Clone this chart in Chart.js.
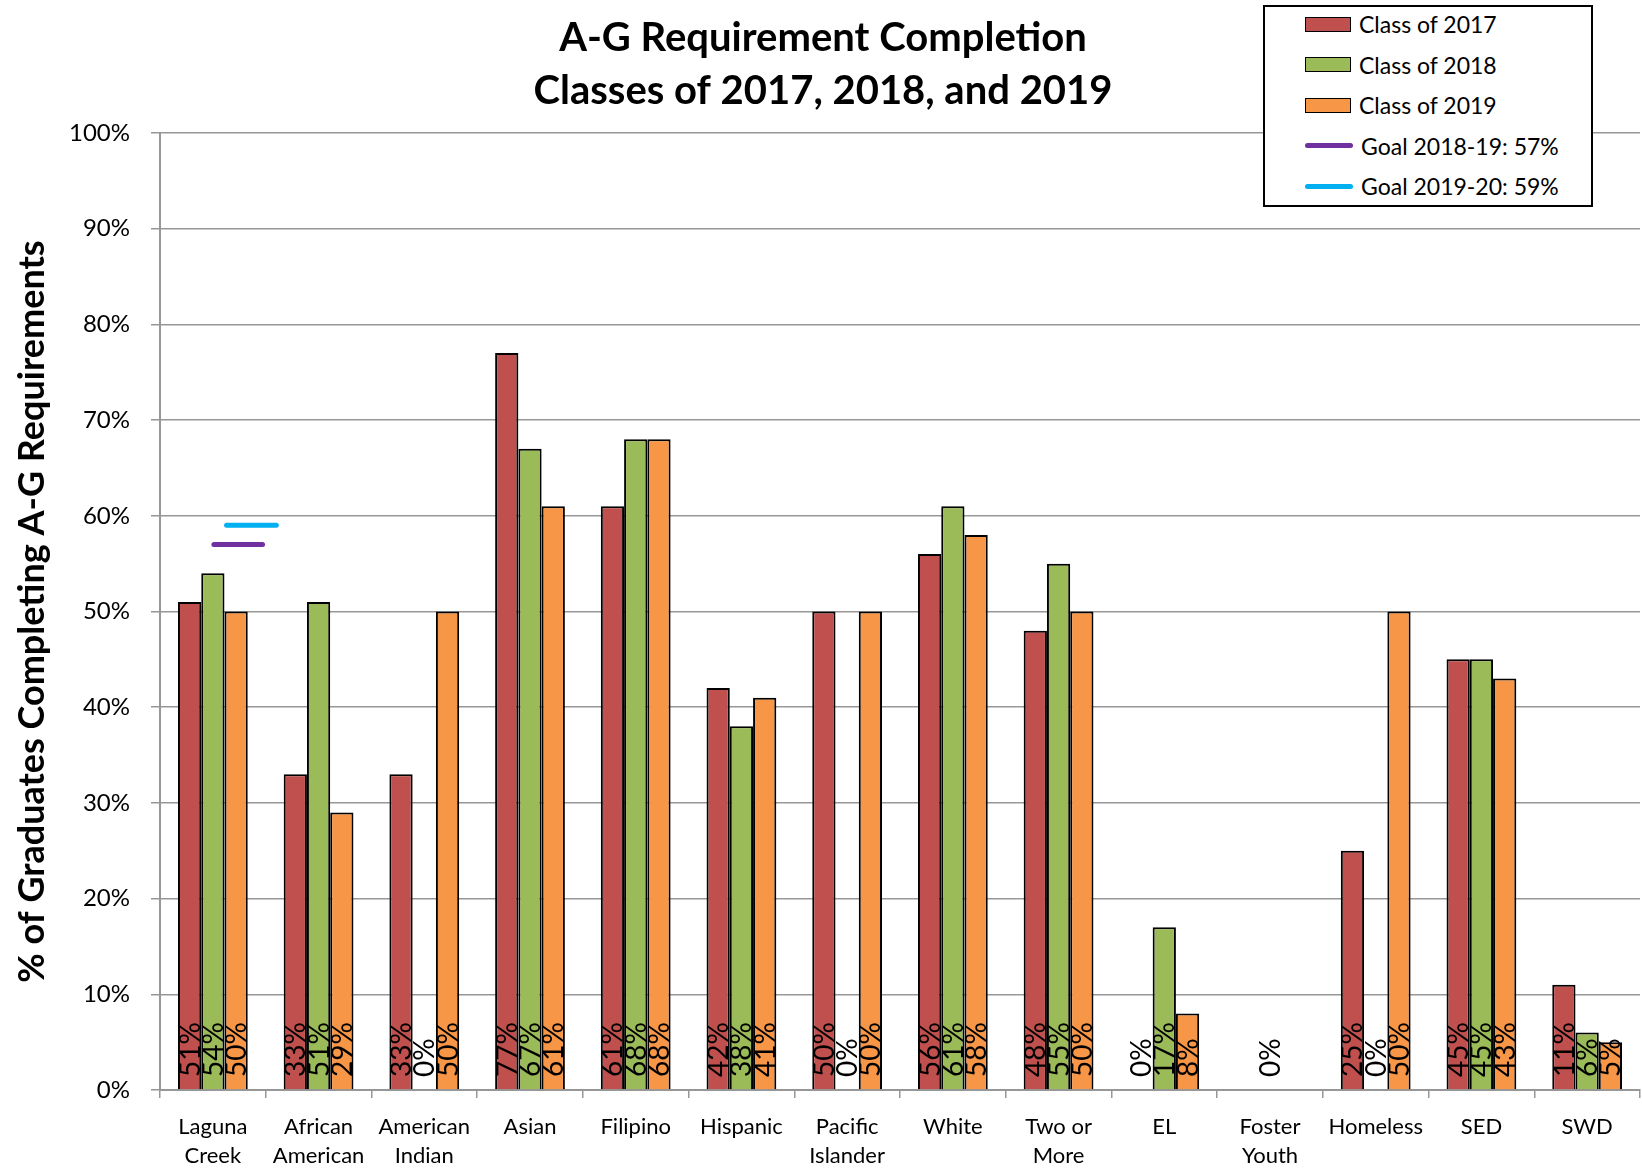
<!DOCTYPE html>
<html>
<head>
<meta charset="utf-8">
<script src="https://cdn.jsdelivr.net/npm/chart.js@4/dist/chart.umd.min.js"></script>
<style>
    body { margin: 0; background: #fff; }
    #wrap { position: relative; width: 1642px; height: 1168px; }
    #legend {
        position: absolute; left: 1263px; top: 5px; width: 326px; height: 198px;
        border: 2px solid #000; background: #fff; font-family: Lato, sans-serif; font-size: 23px;
    }
    .item { position: absolute; left: 40px; height: 30px; display: flex; align-items: center; }
    .swatch { width: 44px; height: 13px; border: 1.5px solid #000; margin-right: 8px; }
    .linea { width: 48px; height: 5px; border-radius: 3px; margin-right: 8px; }
</style>
</head>
<body>
<div id="wrap">
    <canvas id="grafico" width="1642" height="1168"></canvas>
    <div id="legend"></div>
</div>
<script>
// Datos
const categorias = [
    ['Laguna', 'Creek'], ['African', 'American'], ['American', 'Indian'], 'Asian', 'Filipino', 'Hispanic',
    ['Pacific', 'Islander'], 'White', ['Two or', 'More'], 'EL', ['Foster', 'Youth'], 'Homeless', 'SED', 'SWD'
]
const clase2017 = [51, 33, 33, 77, 61, 42, 50, 56, 48, 0, null, 25, 45, 11]
const clase2018 = [54, 51, 0, 67, 68, 38, 0, 61, 55, 17, 0, 0, 45, 6]
const clase2019 = [50, 29, 50, 61, 68, 41, 50, 58, 50, 8, null, 50, 43, 5]
const metasNombres = ['Goal 2018-19: 57%', 'Goal 2019-20: 59%']
const metasValores = [57, 59]
const ticksY = [0, 10, 20, 30, 40, 50, 60, 70, 80, 90, 100]

const fuente = 'Lato, sans-serif'
const gris = '#979797'
const coloresMetas = ['#7030A0', '#00B0F0']
// tramo de cada línea de meta, en unidades de categoría respecto al centro de "Laguna Creek"
const tramosMetas = [[0.01, 0.47], [0.13, 0.6]]

// Líneas de meta dibujadas con las escalas del gráfico
const lineasMeta = {
    id: 'lineasMeta',
    afterDatasetsDraw(chart) {
        const ctx = chart.ctx
        const x = chart.scales.x
        const y = chart.scales.y
        const paso = x.getPixelForValue(1) - x.getPixelForValue(0)
        ctx.save()
        ctx.lineWidth = 5
        ctx.lineCap = 'round'
        metasValores.forEach((v, i) => {
            const py = y.getPixelForValue(v)
            ctx.strokeStyle = coloresMetas[i]
            ctx.beginPath()
            ctx.moveTo(x.getPixelForValue(0) + tramosMetas[i][0] * paso, py)
            ctx.lineTo(x.getPixelForValue(0) + tramosMetas[i][1] * paso, py)
            ctx.stroke()
        })
        ctx.restore()
    }
}

// Etiquetas verticales dentro de las barras
const etiquetasBarras = {
    id: 'etiquetasBarras',
    afterDatasetsDraw(chart) {
        const ctx = chart.ctx
        const base = chart.scales.y.getPixelForValue(0)
        ctx.save()
        ctx.font = '28px ' + fuente
        ctx.fillStyle = '#000'
        ctx.textAlign = 'left'
        ctx.textBaseline = 'middle'
        chart.data.datasets.forEach((ds, i) => {
            chart.getDatasetMeta(i).data.forEach((barra, j) => {
                const v = ds.data[j]
                if (v === null) return
                ctx.save()
                ctx.translate(barra.x, base - 13)
                ctx.rotate(-Math.PI / 2)
                ctx.fillText(v + '%', 0, 1)
                ctx.restore()
            })
        })
        ctx.restore()
    }
}

const estiloBarra = {
    borderColor: '#000', borderWidth: 2, borderSkipped: 'bottom',
    categoryPercentage: 0.66, barPercentage: 1
}

const grafico = new Chart(document.getElementById('grafico'), {
    type: 'bar',
    data: {
        labels: categorias,
        datasets: [
            Object.assign({ label: 'Class of 2017', data: clase2017, backgroundColor: '#C0504D' }, estiloBarra),
            Object.assign({ label: 'Class of 2018', data: clase2018, backgroundColor: '#9BBB59' }, estiloBarra),
            Object.assign({ label: 'Class of 2019', data: clase2019, backgroundColor: '#F79646' }, estiloBarra)
        ]
    },
    options: {
        responsive: false,
        animation: false,
        layout: { padding: { left: 6, right: 2, top: 0, bottom: 0 } },
        plugins: {
            legend: { display: false },
            tooltip: { enabled: false },
            title: {
                display: true,
                text: ['A-G Requirement Completion', 'Classes of 2017, 2018, and 2019'],
                color: '#000',
                font: { family: fuente, size: 40, weight: 'bold', lineHeight: 1.325 },
                padding: { top: 12, bottom: 15 }
            }
        },
        scales: {
            x: {
                offset: true,
                grid: { display: true, drawOnChartArea: false, offset: true, color: gris, tickLength: 8, lineWidth: 1.5 },
                border: { color: gris, width: 2 },
                ticks: { color: '#000', font: { family: fuente, size: 22, lineHeight: 1.3 }, maxRotation: 0, autoSkip: false, padding: 15 },
                afterFit: s => { s.height = 78 }
            },
            y: {
                min: 0, max: 100,
                afterBuildTicks: s => { s.ticks = ticksY.map(v => ({ value: v })) },
                grid: { color: gris, lineWidth: 1.5, tickLength: 9 },
                border: { color: gris, width: 2 },
                ticks: { color: '#000', font: { family: fuente, size: 24 }, padding: 21, callback: v => v + '%' },
                title: {
                    display: true, text: '% of Graduates Completing A-G Requirements', color: '#000',
                    font: { family: fuente, size: 36, weight: 'bold' }, padding: { top: 5, bottom: 0 }
                },
                afterFit: s => { s.width = 154 }
            }
        }
    },
    plugins: [etiquetasBarras, lineasMeta]
})

// Leyenda en HTML: barras y metas
const leyenda = document.getElementById('legend')
const entradas = grafico.data.datasets.map(ds => ({ texto: ds.label, color: ds.backgroundColor, linea: false }))
    .concat(metasNombres.map((n, i) => ({ texto: n, color: coloresMetas[i], linea: true })))
entradas.forEach((e, i) => {
    const item = document.createElement('div')
    item.className = 'item'
    item.style.top = (2 + i * 40.5) + 'px'
    const marca = document.createElement('div')
    marca.className = e.linea ? 'linea' : 'swatch'
    marca.style.background = e.color
    item.appendChild(marca)
    item.appendChild(document.createTextNode(e.texto))
    leyenda.appendChild(item)
})
</script>
</body>
</html>
